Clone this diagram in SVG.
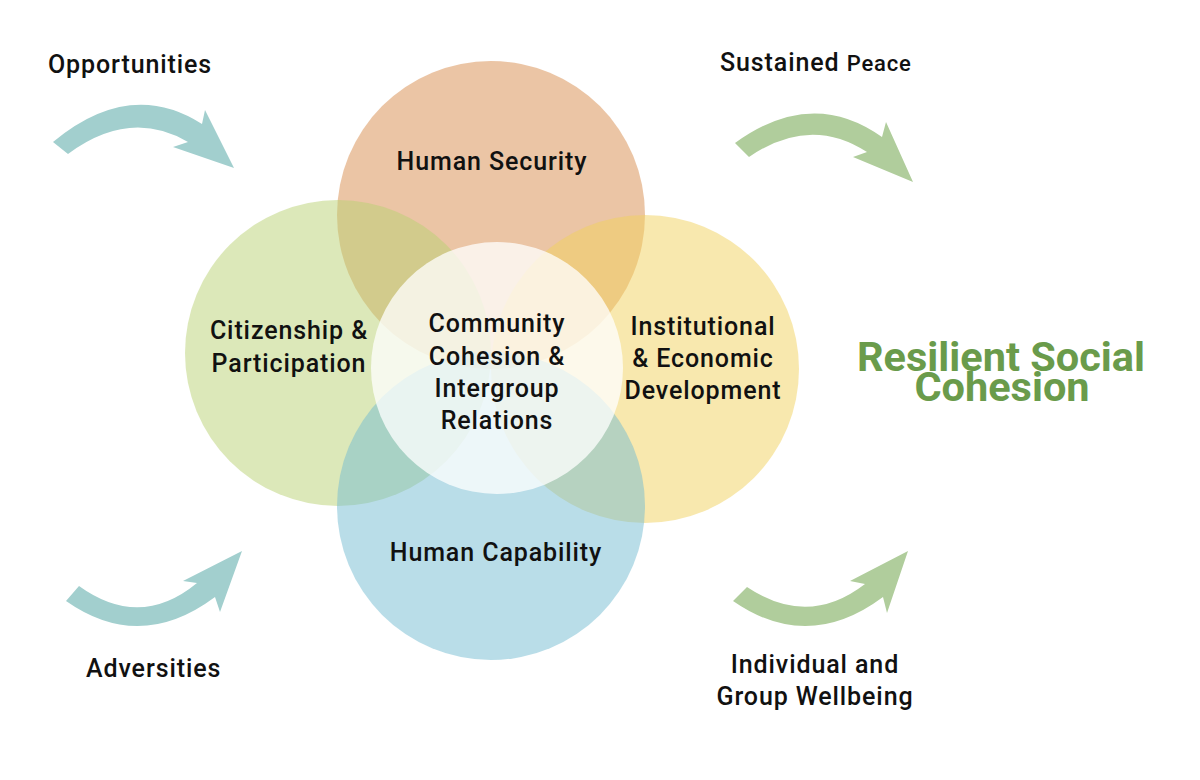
<svg xmlns="http://www.w3.org/2000/svg" width="1200" height="780" viewBox="0 0 1200 780">
<style>
  .lbl { font-family: Roboto, "Liberation Sans", sans-serif; font-weight: 500; font-size: 25px; letter-spacing: 0.9px; fill: #111; text-anchor: middle; }
  .side { font-family: Roboto, "Liberation Sans", sans-serif; font-weight: 500; font-size: 25px; letter-spacing: 0.9px; fill: #111; }
  .res { font-family: Roboto, "Liberation Sans", sans-serif; font-weight: 700; font-size: 41.5px; fill: #6A9B4B; text-anchor: middle; }
  .circ { fill-opacity: 0.5; }
  .teal { fill: #A2CFCE; }
  .green { fill: #B0CD9C; }
</style>
<rect width="1200" height="780" fill="#FFFFFF"/>

<g id="circle-security"><circle class="circ" cx="491" cy="215" r="154" fill="#D78B4B"/></g>
<g id="circle-citizenship"><circle class="circ" cx="338" cy="353" r="153" fill="#B9D173"/></g>
<g id="circle-institutional"><circle class="circ" cx="645" cy="369" r="154" fill="#F1D15D"/></g>
<g id="circle-capability"><circle class="circ" cx="491" cy="506" r="154" fill="#73BBD1"/></g>
<g id="circle-community"><circle cx="497" cy="368" r="126" fill="#FFFFFF" fill-opacity="0.75"/></g>

<g id="labels">
  <text class="lbl" x="492" y="170">Human Security</text>
  <text class="lbl" x="289" y="339">Citizenship &amp;</text>
  <text class="lbl" x="289" y="372">Participation</text>
  <text class="lbl" x="703" y="335">Institutional</text>
  <text class="lbl" x="703" y="367">&amp; Economic</text>
  <text class="lbl" x="703" y="399">Development</text>
  <text class="lbl" x="497" y="332">Community</text>
  <text class="lbl" x="497" y="365">Cohesion &amp;</text>
  <text class="lbl" x="497" y="397">Intergroup</text>
  <text class="lbl" x="497" y="429">Relations</text>
  <text class="lbl" x="496" y="561">Human Capability</text>
</g>

<g id="connectors">
  <path class="teal" d="M53,142 Q130,78 202,124 L205,110 L234,168 L173,147 L188,142 Q130,108 68,154 Z"/>
  <path class="green" d="M735,143 Q812,87 882,137 L886,122 L913,182 L853,157 L867,152 Q810,115 749,157 Z"/>
  <path class="teal" d="M79,586 Q140,630 197,583 L183,581 L242,551 L220,612 L215,597 Q140,653 66,601 Z"/>
  <path class="green" d="M747,587 Q808,628 865,584 L850,581 L908,551 L887,613 L883,597 Q808,653 733,601 Z"/>
</g>

<g id="side-labels">
  <text class="side" x="48" y="73">Opportunities</text>
  <text class="side" x="720" y="71">Sustained <tspan font-size="22" letter-spacing="0.8">Peace</tspan></text>
  <text class="side" x="86" y="677">Adversities</text>
  <text class="lbl" x="815" y="673">Individual and</text>
  <text class="lbl" x="815" y="705">Group Wellbeing</text>
</g>

<g id="result">
  <text class="res" x="1001" y="371">Resilient Social</text>
  <text class="res" x="1002" y="401">Cohesion</text>
</g>
</svg>
